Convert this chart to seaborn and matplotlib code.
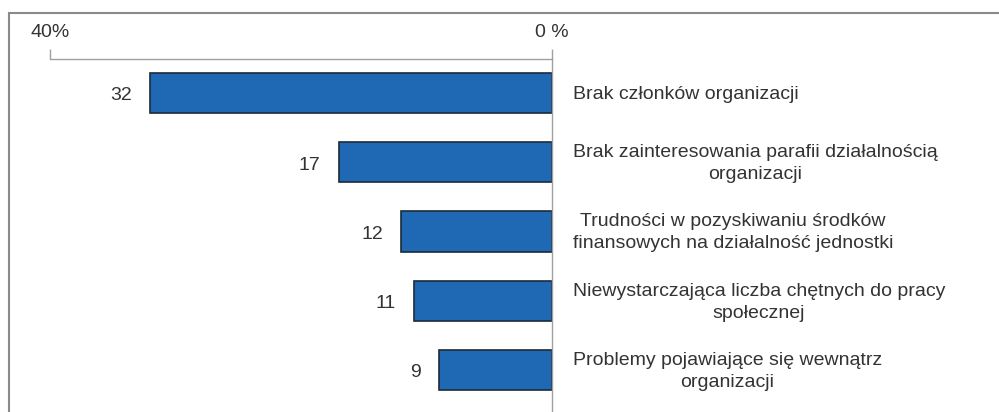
import seaborn as sns
import pandas as pd
import matplotlib.pyplot as plt
from matplotlib.patches import Rectangle

# data
categories = [
    'Brak członków organizacji',
    'Brak zainteresowania parafii działalnością\norganizacji',
    'Trudności w pozyskiwaniu środków\nfinansowych na działalność jednostki',
    'Niewystarczająca liczba chętnych do pracy\nspołecznej',
    'Problemy pojawiające się wewnątrz\norganizacji',
]
values = [32, 17, 12, 11, 9]
tick_values = [40, 0]
tick_labels = ['40%', '0 %']

data = pd.DataFrame({'kategoria': categories, 'procent': values})

sns.set_style('white')
plt.rcParams['font.family'] = ['Liberation Sans', 'DejaVu Sans']

W, H = 999, 412
fig = plt.figure(figsize=(W / 100, H / 100), dpi=100)
ax = fig.add_axes([50 / W, 0, 502 / W, 353 / H])

sns.barplot(data=data, x='procent', y='kategoria', orient='h', color='#1f68b3',
            saturation=1, width=0.58, edgecolor='#1e2a38', linewidth=1.2, ax=ax)

ax.set_xlim(40, 0)
ax.set_ylim(4.606, -0.491)
ax.set_xlabel('')
ax.set_ylabel('')
ax.set_yticks([])

ax.xaxis.tick_top()
ax.set_xticks(tick_values)
ax.set_xticklabels(tick_labels)
ax.tick_params(axis='x', direction='out', length=7, width=1, color='#a0a0a0',
               labelsize=14, labelcolor='#333333', pad=6)

for side in ['left', 'bottom']:
    ax.spines[side].set_visible(False)
for side in ['top', 'right']:
    ax.spines[side].set_color('#a0a0a0')
    ax.spines[side].set_linewidth(1)

# value labels left of the bars and category text right of the zero line
for i, (cat, val) in enumerate(zip(categories, values)):
    ax.annotate(str(val), xy=(val, i), xytext=(-13, -2), textcoords='offset points',
                ha='right', va='center', fontsize=14, color='#333333')
    ax.annotate(cat, xy=(0, i), xytext=(15, -1), textcoords='offset points',
                ha='left', va='center', multialignment='center',
                fontsize=14, color='#333333', linespacing=1.38,
                annotation_clip=False)

# outer frame around the chart
fig.patches.append(Rectangle((9 / W, -0.05), 1.1, (H - 13) / H + 0.05,
                             transform=fig.transFigure, fill=False,
                             edgecolor='#8a8a8a', linewidth=1.5))

fig.savefig('out.png', dpi=100)
